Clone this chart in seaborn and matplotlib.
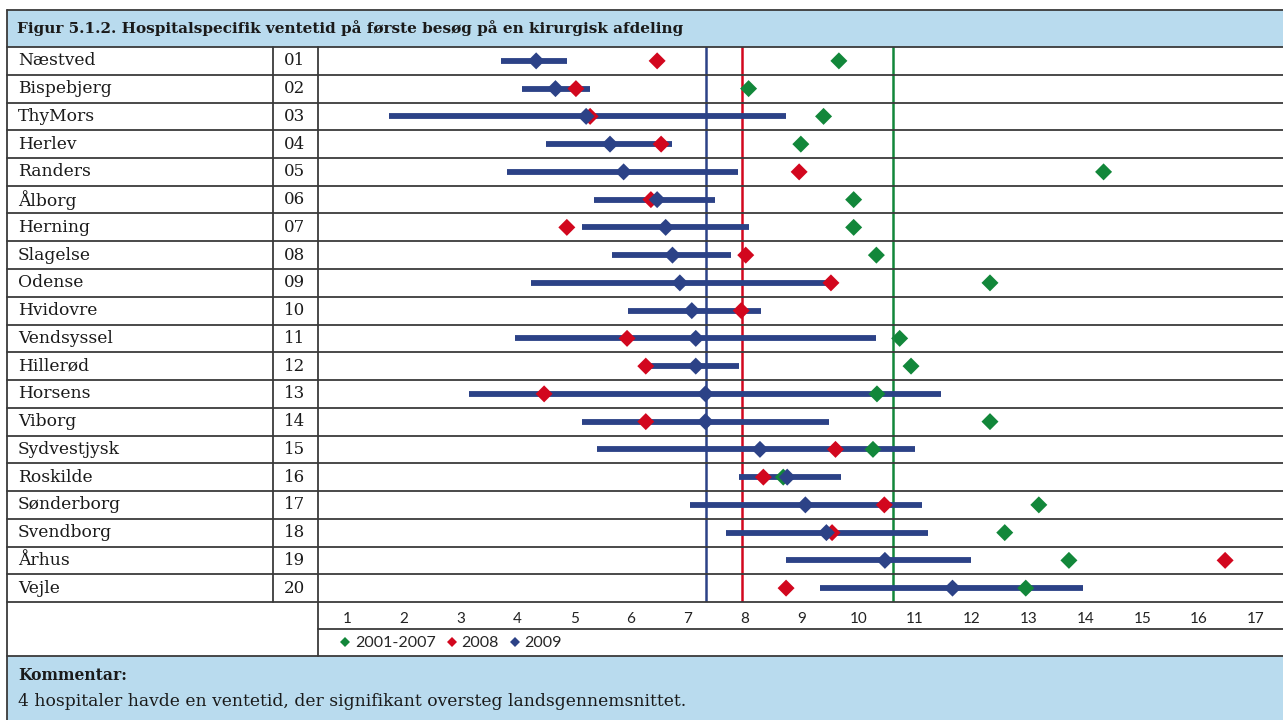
import numpy as np
import pandas as pd
import matplotlib
matplotlib.use("Agg")
import matplotlib.pyplot as plt
from matplotlib.lines import Line2D
from matplotlib.patches import Rectangle
import seaborn as sns

# ---------------- data ----------------
hospitals = ["Næstved", "Bispebjerg", "ThyMors", "Herlev", "Randers", "Ålborg",
             "Herning", "Slagelse", "Odense", "Hvidovre", "Vendsyssel", "Hillerød",
             "Horsens", "Viborg", "Sydvestjysk", "Roskilde", "Sønderborg",
             "Svendborg", "Århus", "Vejle"]
codes = ["01", "02", "03", "04", "05", "06", "07", "08", "09", "10",
         "11", "12", "13", "14", "15", "16", "17", "18", "19", "20"]
val_2001_2007 = [9.66, 8.07, 9.39, 8.99, 14.32, 9.92, 9.92, 10.32, 12.32, np.nan,
                 10.73, 10.93, 10.33, 12.32, 10.26, 8.68, 13.18, 12.58, 13.71, 12.95]
val_2008 = [6.46, 5.03, 5.28, 6.53, 8.96, 6.35, 4.87, 8.02, 9.52, 7.94,
            5.93, 6.26, 4.47, 6.26, 9.60, 8.33, 10.46, 9.54, 16.46, 8.73]
val_2009 = [4.33, 4.67, 5.21, 5.63, 5.87, 6.46, 6.61, 6.73, 6.86, 7.07,
            7.14, 7.14, 7.31, 7.31, 8.27, 8.75, 9.07, 9.44, 10.47, 11.66]
ci_low_2009 = [3.71, 4.08, 1.74, 4.50, 3.81, 5.34, 5.14, 5.67, 4.24, 5.94,
               3.95, 6.26, 3.15, 5.14, 5.40, 7.90, 7.04, 7.67, 8.73, 9.33]
ci_high_2009 = [4.87, 5.27, 8.72, 6.73, 7.89, 7.48, 8.08, 7.76, 9.52, 8.29,
                10.32, 7.90, 11.46, 9.49, 11.00, 9.69, 11.12, 11.22, 11.99, 13.96]
avg_2009 = 7.32
avg_2008 = 7.95
avg_2001_2007 = 10.61
series_names = ["2001-2007", "2008", "2009"]
x_ticks = list(range(1, 18))

title = "Figur 5.1.2. Hospitalspecifik ventetid på første besøg på en kirurgisk afdeling"
comment_head = "Kommentar:"
comment_text = "4 hospitaler havde en ventetid, der signifikant oversteg landsgennemsnittet."

# ---------------- style ----------------
GREEN = "#12873a"
RED = "#d2071e"
BLUE = "#2c4287"
HEAD = "#b9dbee"
LINE = "#3a3a3a"
SERIF = ["DejaVu Serif"]
SANS = ["Lato", "DejaVu Sans"]

sns.set_theme(style="white")
plt.rcParams["font.family"] = SANS

W, H = 1283, 720
fig = plt.figure(figsize=(W / 100, H / 100), dpi=100)
fig.patch.set_facecolor("white")

def fx(px):
    return px / W

def fy(py):
    return 1 - py / H

n = len(hospitals)
top_rows = 47
bot_rows = 602
row_h = (bot_rows - top_rows) / n
left = 7
col1 = 273
col2 = 318

# header and comment boxes
fig.add_artist(Rectangle((fx(left), fy(47)), fx(W) - fx(left), fy(10) - fy(47),
                         transform=fig.transFigure, facecolor=HEAD, edgecolor="none", zorder=0))
fig.add_artist(Rectangle((fx(left), fy(720)), fx(W) - fx(left), fy(656) - fy(720),
                         transform=fig.transFigure, facecolor=HEAD, edgecolor="none", zorder=0))

# main axes
ax = fig.add_axes([fx(col2), fy(bot_rows), fx(W) - fx(col2), fy(top_rows) - fy(bot_rows)])
ax.set_facecolor("none")
ax.set_xlim(0.489, 17.479)
ax.set_ylim(n + 0.5, 0.5)

rows = np.arange(1, n + 1)
ax.hlines(rows, ci_low_2009, ci_high_2009, color=BLUE, lw=4.2, zorder=2)
ax.axvline(avg_2009, color=BLUE, lw=1.8, zorder=1)
ax.axvline(avg_2008, color=RED, lw=1.8, zorder=1)
ax.axvline(avg_2001_2007, color=GREEN, lw=1.8, zorder=1)

df = pd.concat([
    pd.DataFrame({"row": rows, "value": val_2001_2007, "series": series_names[0]}),
    pd.DataFrame({"row": rows, "value": val_2008, "series": series_names[1]}),
    pd.DataFrame({"row": rows, "value": val_2009, "series": series_names[2]}),
]).dropna()
sns.scatterplot(data=df, x="value", y="row", hue="series", hue_order=series_names,
                palette=[GREEN, RED, BLUE], marker="D", s=75, linewidth=0,
                ax=ax, zorder=3)

ax.set_xticks(x_ticks)
ax.set_xticklabels([str(t) for t in x_ticks])
ax.tick_params(axis="x", length=0, pad=7, labelsize=11, labelcolor="#222222")
ax.set_yticks([])
ax.set_xlabel("")
ax.set_ylabel("")
for s in ax.spines.values():
    s.set_visible(False)

sns.move_legend(ax, loc="center left", bbox_to_anchor=(fx(331), fy(643)),
                bbox_transform=fig.transFigure, ncol=3, frameon=False, title=None,
                fontsize=11.5, markerscale=0.62, handletextpad=0.1, columnspacing=0.5,
                handlelength=1.0, borderaxespad=0)

# table lines
def hline(y, x0, x1, lw=1.3, color=LINE):
    fig.add_artist(Line2D([fx(x0), fx(x1)], [fy(y), fy(y)], transform=fig.transFigure,
                          color=color, lw=lw, zorder=5))

def vline(x, y0, y1, lw=1.3, color=LINE):
    fig.add_artist(Line2D([fx(x), fx(x)], [fy(y0), fy(y1)], transform=fig.transFigure,
                          color=color, lw=lw, zorder=5))

hline(10, left, W)
for k in range(n + 1):
    hline(top_rows + k * row_h, left, W)
hline(629, col2, W)
hline(656, left, W)
vline(left, 10, 720)
vline(col1, top_rows, bot_rows)
vline(col2, top_rows, 656)

# texts
fig.text(fx(17), fy(28.5), title, family=SERIF, fontweight="bold", fontsize=11,
         va="center", ha="left", color="#1a1a1a")
for i, (name, code) in enumerate(zip(hospitals, codes)):
    yc = top_rows + (i + 0.5) * row_h
    fig.text(fx(18), fy(yc), name, family=SERIF, fontsize=12.3, va="center", ha="left",
             color="#1a1a1a")
    fig.text(fx(284), fy(yc), code, family=SERIF, fontsize=12, va="center", ha="left",
             color="#1a1a1a")
fig.text(fx(18), fy(676), comment_head, family=SERIF, fontweight="bold", fontsize=11.2,
         va="center", ha="left", color="#1a1a1a")
fig.text(fx(18), fy(702), comment_text, family=SERIF, fontsize=12.3, va="center",
         ha="left", color="#1a1a1a")

fig.savefig("out.png", dpi=100)
